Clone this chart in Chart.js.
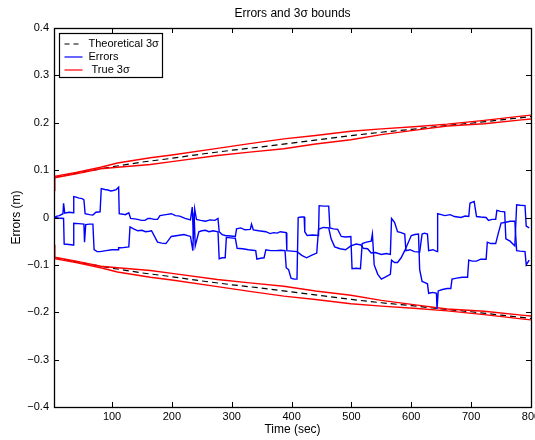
<!DOCTYPE html>
<html>
<head>
<meta charset="utf-8">
<title>Errors and 3σ bounds</title>
<script src="https://cdn.jsdelivr.net/npm/chart.js@4.4.1/dist/chart.umd.min.js"></script>
<style>
  body { margin: 0; background: #fff; }
  #wrap { width: 535px; height: 440px; }
</style>
</head>
<body>
<div id="wrap"><canvas id="errChart" width="535" height="440"></canvas></div>
<script>
// time axis / value axis ticks
const xTicks = [100, 200, 300, 400, 500, 600, 700, 800];
const yTicks = [-0.4, -0.3, -0.2, -0.1, 0, 0.1, 0.2, 0.3, 0.4];

// theoretical 3-sigma bound
const theoT = [3, 50, 100, 150, 200, 250, 300, 350, 400, 450, 500, 550, 600, 650, 700, 750, 800];
const theoV = [0.084, 0.096, 0.107, 0.117, 0.125, 0.134, 0.142, 0.149, 0.157, 0.165, 0.173, 0.180, 0.186, 0.193, 0.199, 0.206, 0.213];

// true 3-sigma (two runs)
const trueT = [3, 4, 40, 81, 109, 164, 200, 276, 330, 387, 440, 499, 550, 610, 660, 722, 784, 800];
const true1 = [0.057, 0.087, 0.095, 0.106, 0.115, 0.126, 0.132, 0.146, 0.156, 0.166, 0.173, 0.182, 0.187, 0.192, 0.197, 0.205, 0.214, 0.216];
const true2 = [0.058, 0.084, 0.092, 0.103, 0.106, 0.112, 0.118, 0.131, 0.138, 0.145, 0.155, 0.164, 0.175, 0.185, 0.193, 0.198, 0.206, 0.208];

// estimation errors, two components
const errAT = [3, 8, 12, 18, 19, 21, 28, 35, 36, 40, 45, 50, 53, 55, 62, 68, 73, 80, 82, 88, 93, 98, 102, 107, 111, 112, 118, 122, 128, 131, 137, 143, 149, 155, 160, 164, 170, 176, 180, 190, 199, 206, 213, 222, 231, 234, 236, 238, 241, 248, 256, 264, 272, 277, 279, 284, 289, 298, 306, 308, 315, 322, 331, 333, 336, 345, 357, 364, 370, 376, 381, 391, 392, 400, 409, 417, 425, 433, 442, 445, 453, 462, 466, 472, 481, 490, 499, 508, 516, 520, 527, 533, 540, 550, 558, 565, 567, 572, 577, 583, 589, 591, 598, 605, 614, 618, 622, 627, 629, 636, 643, 644, 650, 656, 665, 672, 683, 690, 696, 698, 701, 705, 709, 716, 725, 729, 735, 741, 743, 749, 756, 758, 765, 773, 776, 782, 790, 792, 797];
const errAV = [0.000, 0.003, 0.004, 0.008, 0.030, 0.009, 0.011, 0.010, 0.044, 0.043, 0.041, 0.040, 0.037, 0.008, 0.006, 0.005, 0.011, 0.012, 0.061, 0.059, 0.058, 0.056, 0.057, 0.059, 0.064, 0.008, 0.007, 0.006, 0.010, -0.002, -0.003, -0.004, -0.006, -0.006, -0.002, -0.002, -0.004, -0.004, 0.004, 0.006, 0.008, 0.004, 0.003, -0.002, -0.005, 0.022, -0.045, 0.018, -0.004, -0.006, -0.008, -0.005, -0.006, -0.002, -0.030, -0.036, -0.038, -0.039, -0.040, -0.024, -0.022, -0.026, -0.025, -0.014, -0.026, -0.028, -0.030, -0.034, -0.032, -0.033, -0.030, -0.032, -0.070, -0.071, -0.072, -0.080, -0.085, -0.080, -0.075, -0.025, -0.021, -0.022, -0.045, -0.062, -0.066, -0.068, -0.060, -0.056, -0.058, -0.065, -0.066, -0.075, -0.074, -0.078, -0.076, -0.078, -0.002, -0.010, -0.030, -0.032, -0.035, -0.070, -0.068, -0.072, -0.073, -0.035, -0.033, -0.035, -0.070, -0.068, -0.072, 0.008, 0.006, 0.004, 0.006, 0.002, 0.000, 0.003, 0.002, 0.030, 0.032, 0.034, 0.002, 0.001, 0.000, -0.006, -0.004, -0.004, 0.015, 0.013, 0.012, -0.045, -0.050, -0.060, 0.027, 0.026, 0.025, -0.018, -0.022];

const errBT = [3, 10, 19, 20, 28, 35, 36, 44, 53, 54, 56, 62, 68, 70, 75, 80, 90, 100, 110, 111, 115, 128, 130, 136, 143, 150, 156, 162, 166, 176, 183, 190, 199, 210, 220, 231, 235, 237, 239, 245, 250, 256, 262, 269, 277, 279, 284, 289, 291, 298, 306, 309, 318, 328, 335, 340, 342, 348, 354, 357, 365, 374, 382, 389, 391, 395, 399, 404, 409, 411, 416, 421, 422, 426, 435, 445, 446, 454, 462, 464, 470, 477, 483, 490, 499, 501, 508, 515, 518, 525, 533, 535, 538, 544, 550, 558, 565, 567, 572, 577, 583, 589, 600, 606, 612, 614, 618, 622, 627, 629, 636, 642, 643, 645, 652, 660, 666, 668, 676, 685, 694, 696, 702, 709, 716, 725, 727, 733, 741, 745, 750, 758, 765, 773, 776, 782, 790, 792, 797];
const errBV = [0.000, -0.001, -0.002, -0.056, -0.057, -0.058, -0.012, -0.013, -0.014, -0.052, -0.015, -0.014, -0.014, -0.068, -0.072, -0.072, -0.070, -0.068, -0.068, -0.064, -0.064, -0.062, -0.020, -0.024, -0.028, -0.027, -0.030, -0.029, -0.028, -0.052, -0.054, -0.055, -0.040, -0.038, -0.036, -0.040, -0.070, 0.010, -0.060, -0.030, -0.028, -0.027, -0.030, -0.028, -0.030, -0.087, -0.085, -0.085, -0.042, -0.043, -0.044, -0.065, -0.066, -0.068, -0.069, -0.070, -0.088, -0.086, -0.085, -0.068, -0.070, -0.070, -0.069, -0.070, -0.106, -0.110, -0.128, -0.130, -0.130, 0.000, 0.001, 0.001, -0.030, -0.038, -0.037, -0.038, 0.025, 0.024, 0.024, -0.022, -0.024, -0.025, -0.040, -0.041, -0.040, -0.108, -0.107, -0.108, -0.055, -0.052, -0.050, -0.035, -0.100, -0.120, -0.130, -0.125, -0.120, -0.090, -0.095, -0.095, -0.085, -0.070, -0.038, -0.036, -0.035, -0.110, -0.135, -0.137, -0.140, -0.160, -0.158, -0.160, -0.193, -0.155, -0.152, -0.150, -0.150, -0.130, -0.128, -0.126, -0.126, -0.090, -0.092, -0.092, -0.088, -0.088, -0.052, -0.055, -0.055, -0.035, -0.012, -0.010, -0.008, -0.008, -0.070, -0.071, -0.072, -0.100, -0.090];

const FONT = "'Liberation Sans', Arial, Helvetica, sans-serif";
const BLUE = 'rgb(0, 0, 255)';
const RED = 'rgb(255, 0, 0)';

function pts(ts, vs, sign) {
    return ts.map((t, i) => ({ x: t, y: sign * vs[i] }));
}

function lineSet(data, color, dash) {
    return {
        data: data,
        borderColor: color,
        borderWidth: dash ? 1.2 : 1.4,
        borderDash: dash || [],
        pointRadius: 0,
        tension: 0,
        fill: false
    };
}

// inward tick marks, the box around the plot and the legend
const axesBox = {
    id: 'axesBox',
    afterDraw(chart) {
        const ctx = chart.ctx;
        const a = chart.chartArea;
        const xs = chart.scales.x;
        const ys = chart.scales.y;
        ctx.save();
        ctx.strokeStyle = '#000';
        ctx.lineWidth = 1;
        ctx.beginPath();
        xTicks.forEach(v => {
            const px = Math.round(xs.getPixelForValue(v)) + 0.5;
            ctx.moveTo(px, a.bottom); ctx.lineTo(px, a.bottom - 5);
            ctx.moveTo(px, a.top); ctx.lineTo(px, a.top + 5);
        });
        yTicks.forEach(v => {
            const py = Math.round(ys.getPixelForValue(v)) + 0.5;
            ctx.moveTo(a.left, py); ctx.lineTo(a.left + 5, py);
            ctx.moveTo(a.right, py); ctx.lineTo(a.right - 5, py);
        });
        ctx.stroke();

        ctx.lineWidth = 1.3;
        ctx.strokeRect(Math.round(a.left) + 0.5, Math.round(a.top) + 0.5,
            Math.round(a.right - a.left), Math.round(a.bottom - a.top));

        // legend
        const lx = a.left + 5.5, ly = 33.5, lw = 103, lh = 44;
        ctx.fillStyle = '#fff';
        ctx.fillRect(lx, ly, lw, lh);
        ctx.lineWidth = 1.2;
        ctx.strokeRect(lx, ly, lw, lh);
        const rows = [
            { text: 'Theoretical 3σ', color: '#000', dash: [5, 4] },
            { text: 'Errors', color: BLUE, dash: [] },
            { text: ' True 3σ', color: RED, dash: [] }
        ];
        ctx.font = '11px ' + FONT;
        ctx.textBaseline = 'middle';
        rows.forEach((r, i) => {
            const y = ly + 10.5 + i * 13;
            ctx.strokeStyle = r.color;
            ctx.lineWidth = 1.2;
            ctx.setLineDash(r.dash);
            ctx.beginPath();
            ctx.moveTo(lx + 5, y); ctx.lineTo(lx + 23, y);
            ctx.stroke();
            ctx.setLineDash([]);
            ctx.fillStyle = '#000';
            ctx.fillText(r.text, lx + 29, y);
        });
        ctx.restore();
    }
};

const ctx = document.getElementById('errChart').getContext('2d');
new Chart(ctx, {
    type: 'line',
    data: {
        datasets: [
            lineSet(pts(errAT, errAV, 1), BLUE),
            lineSet(pts(errBT, errBV, 1), BLUE),
            lineSet(pts(trueT, true1, 1), RED),
            lineSet(pts(trueT, true2, 1), RED),
            lineSet(pts(trueT, true1, -1), RED),
            lineSet(pts(trueT, true2, -1), RED),
            lineSet(pts(theoT, theoV, 1), '#000', [6, 4]),
            lineSet(pts(theoT, theoV, -1), '#000', [6, 4])
        ]
    },
    options: {
        responsive: false,
        animation: false,
        layout: { padding: { left: 0, right: 4, top: 0, bottom: 0 } },
        plugins: {
            legend: { display: false },
            tooltip: { enabled: false },
            title: {
                display: true,
                text: 'Errors and 3σ bounds',
                fullSize: false,
                color: '#000',
                font: { family: FONT, size: 12, weight: 'normal' },
                padding: { top: 6, bottom: 7.6 }
            }
        },
        scales: {
            x: {
                type: 'linear',
                min: 3,
                max: 800,
                grid: { display: false, drawTicks: false },
                border: { display: false },
                ticks: {
                    color: '#000',
                    padding: 3,
                    maxRotation: 0,
                    autoSkip: false,
                    font: { family: FONT, size: 11 }
                },
                title: {
                    display: true,
                    text: 'Time (sec)',
                    color: '#000',
                    font: { family: FONT, size: 12 },
                    padding: { top: 0, bottom: 3 }
                },
                afterBuildTicks(scale) {
                    scale.ticks = xTicks.map(v => ({ value: v }));
                },
                afterFit(scale) {
                    scale.height = 33;
                    scale.paddingLeft = 0;
                    scale.paddingRight = 0;
                }
            },
            y: {
                type: 'linear',
                min: -0.4,
                max: 0.4,
                grid: { display: false, drawTicks: false },
                border: { display: false },
                ticks: {
                    color: '#000',
                    padding: 5,
                    autoSkip: false,
                    font: { family: FONT, size: 11 },
                    callback: v => {
                        const s = Math.abs(v) < 1e-9 ? '0' : Math.abs(v).toFixed(1);
                        return v < -1e-9 ? '\u2212' + s : s;
                    }
                },
                title: {
                    display: true,
                    text: 'Errors (m)',
                    color: '#000',
                    font: { family: FONT, size: 12 },
                    padding: { top: 9, bottom: 0 }
                },
                afterBuildTicks(scale) {
                    scale.ticks = yTicks.map(v => ({ value: v }));
                },
                afterFit(scale) {
                    scale.width = 54;
                    scale.paddingTop = 0;
                    scale.paddingBottom = 0;
                }
            }
        }
    },
    plugins: [axesBox]
});
</script>
</body>
</html>
